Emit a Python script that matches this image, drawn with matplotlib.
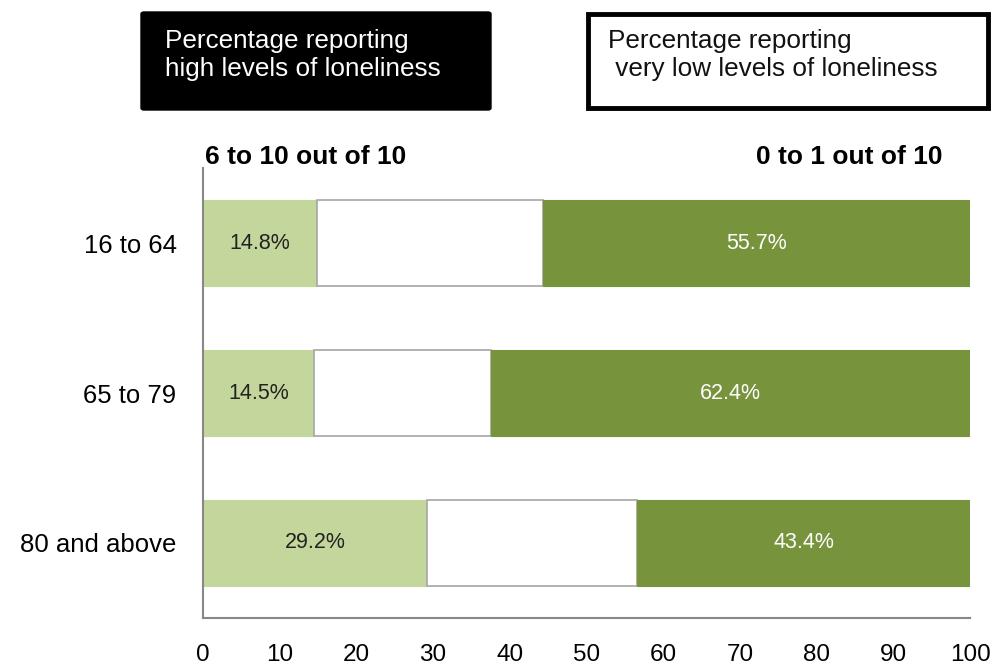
import matplotlib
matplotlib.use("Agg")
import matplotlib.pyplot as plt
from matplotlib.patches import FancyBboxPatch

categories = ["16 to 64", "65 to 79", "80 and above"]
high = [14.8, 14.5, 29.2]
very_low = [55.7, 62.4, 43.4]
middle = [100 - h - v for h, v in zip(high, very_low)]
xticks = [0, 10, 20, 30, 40, 50, 60, 70, 80, 90, 100]

light_green = "#C3D69B"
dark_green = "#77933C"

plt.rcParams['font.family'] = ['Liberation Sans', 'DejaVu Sans']

fig = plt.figure(figsize=(9.93, 6.65), dpi=100)
ax = fig.add_axes([203/993, 1 - 618/665, (970-203)/993, (618-168)/665])

y = list(range(len(categories)))
h = 0.57
ax.barh(y, high, height=h, color=light_green, edgecolor=light_green, linewidth=0.8)
ax.barh(y, middle, left=high, height=h, color="white", edgecolor="#A6A6A6", linewidth=1.2)
ax.barh(y, very_low, left=[a + b for a, b in zip(high, middle)], height=h,
        color=dark_green, edgecolor=dark_green, linewidth=0.8)

for i in y:
    ax.text(high[i] / 2, i, f"{high[i]:.1f}%", ha="center", va="center",
            fontsize=15.5, color="#222222")
    ax.text(high[i] + middle[i] + very_low[i] / 2, i, f"{very_low[i]:.1f}%",
            ha="center", va="center", fontsize=15.5, color="white")

ax.set_xlim(0, 100)
ax.set_ylim(2.5, -0.5)
ax.set_yticks(y)
ax.set_yticklabels(categories, fontsize=18.5)
ax.set_xticks(xticks)
ax.set_xticklabels([str(t) for t in xticks], fontsize=17.5)
ax.tick_params(axis='both', length=0)
ax.tick_params(axis='x', pad=18.5)
ax.tick_params(axis='y', pad=19)
for s in ["top", "right"]:
    ax.spines[s].set_visible(False)
for s in ["left", "bottom"]:
    ax.spines[s].set_color("#888888")
    ax.spines[s].set_linewidth(1.5)

fig.text(205/993, 1 - 157/665, "6 to 10 out of 10", fontsize=19, fontweight="bold",
         ha="left", va="center")
fig.text(942/993, 1 - 157/665, "0 to 1 out of 10", fontsize=19, fontweight="bold",
         ha="right", va="center")

# boxes
b1 = FancyBboxPatch((141/993, 1 - 110/665), (491-141)/993, (110-12)/665,
                    boxstyle="round,pad=0,rounding_size=0.003", transform=fig.transFigure,
                    facecolor="black", edgecolor="black")
fig.patches.append(b1)
fig.text(165/993, 1 - 55/665, "Percentage reporting\nhigh levels of loneliness",
         fontsize=18.8, color="white", ha="left", va="center", linespacing=1.25)

b2 = FancyBboxPatch((588/993, 1 - 108/665), (988-588)/993, (108-14)/665,
                    boxstyle="square,pad=0", transform=fig.transFigure,
                    facecolor="white", edgecolor="black", linewidth=3.5)
fig.patches.append(b2)
fig.text(608/993, 1 - 55/665, "Percentage reporting\n very low levels of loneliness",
         fontsize=18.8, color="#111111", ha="left", va="center", linespacing=1.25)

fig.savefig("out.png", dpi=100)
